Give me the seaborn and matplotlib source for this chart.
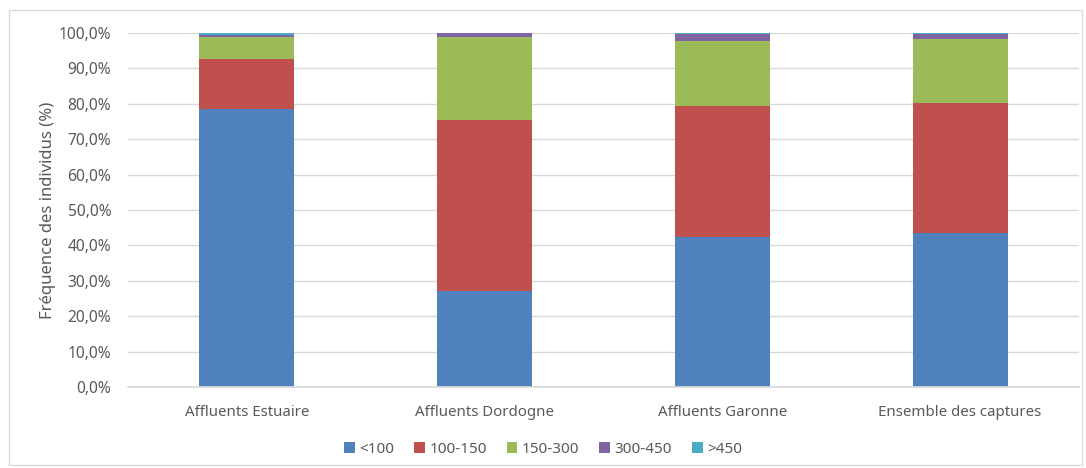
import matplotlib
matplotlib.use("Agg")
import matplotlib.pyplot as plt
from matplotlib.ticker import FuncFormatter
from matplotlib.patches import Rectangle, Patch
import seaborn as sns
import pandas as pd
import numpy as np

# Size-class frequencies (%) per sampling group
groups = ["Affluents Estuaire", "Affluents Dordogne", "Affluents Garonne", "Ensemble des captures"]
classes = ["<100", "100-150", "150-300", "300-450", ">450"]
lt100 = [78.5, 27.1, 42.4, 43.5]
c100_150 = [14.1, 48.3, 37.1, 36.7]
c150_300 = [6.3, 23.4, 18.2, 18.0]
c300_450 = [0.4, 1.2, 2.0, 1.5]
gt450 = [0.7, 0.0, 0.3, 0.3]
colors = ["#4F81BD", "#C0504D", "#9BBB59", "#8064A2", "#4BACC6"]

sns.set_theme(style="white")
plt.rcParams["font.family"] = ["Noto Sans", "DejaVu Sans"]
text_color = "#595959"
grid_color = "#D9D9D9"

df = pd.DataFrame({"groupe": groups, "<100": lt100, "100-150": c100_150,
                   "150-300": c150_300, "300-450": c300_450, ">450": gt450})
cum = df[classes].cumsum(axis=1)

fig = plt.figure(figsize=(10.86, 4.68), dpi=100)
ax = fig.add_axes([0.1179, 0.1731, 0.8756, 0.7564])

# stacked bars: draw cumulative totals from the top class down
for cls, col in reversed(list(zip(classes, colors))):
    sns.barplot(x=df["groupe"], y=cum[cls], color=col, width=0.4,
                saturation=1, ax=ax, zorder=2, linewidth=0)

ax.set_ylim(0, 100)
ax.set_yticks(np.arange(0, 101, 10))
ax.yaxis.set_major_formatter(FuncFormatter(lambda v, p: f"{v:.1f}%".replace(".", ",")))
ax.grid(axis="y", color=grid_color, linewidth=1, zorder=0)
ax.set_axisbelow(True)
for s in ["top", "right", "left"]:
    ax.spines[s].set_visible(False)
ax.spines["bottom"].set_color(grid_color)
ax.tick_params(axis="both", length=0, colors=text_color)
ax.tick_params(axis="y", pad=12, labelsize=11.2)
ax.tick_params(axis="x", pad=13, labelsize=10.8)
ax.set_xlabel("")
ax.set_ylabel("Fréquence des individus (%)", color=text_color, fontsize=12, labelpad=2)

handles = [Patch(facecolor=c, edgecolor="none", label=l) for c, l in zip(colors, classes)]
fig.legend(handles=handles, loc="center", bbox_to_anchor=(0.5, 0.04), ncol=5,
           frameon=False, fontsize=11, labelcolor=text_color, handlelength=0.7,
           handleheight=0.7, handletextpad=0.3, columnspacing=1.3)

fig.patches.append(Rectangle((0.008, 0.006), 0.988, 0.973, transform=fig.transFigure,
                             fill=False, edgecolor=grid_color, linewidth=1))

fig.savefig("out.png", dpi=100, facecolor="white")
